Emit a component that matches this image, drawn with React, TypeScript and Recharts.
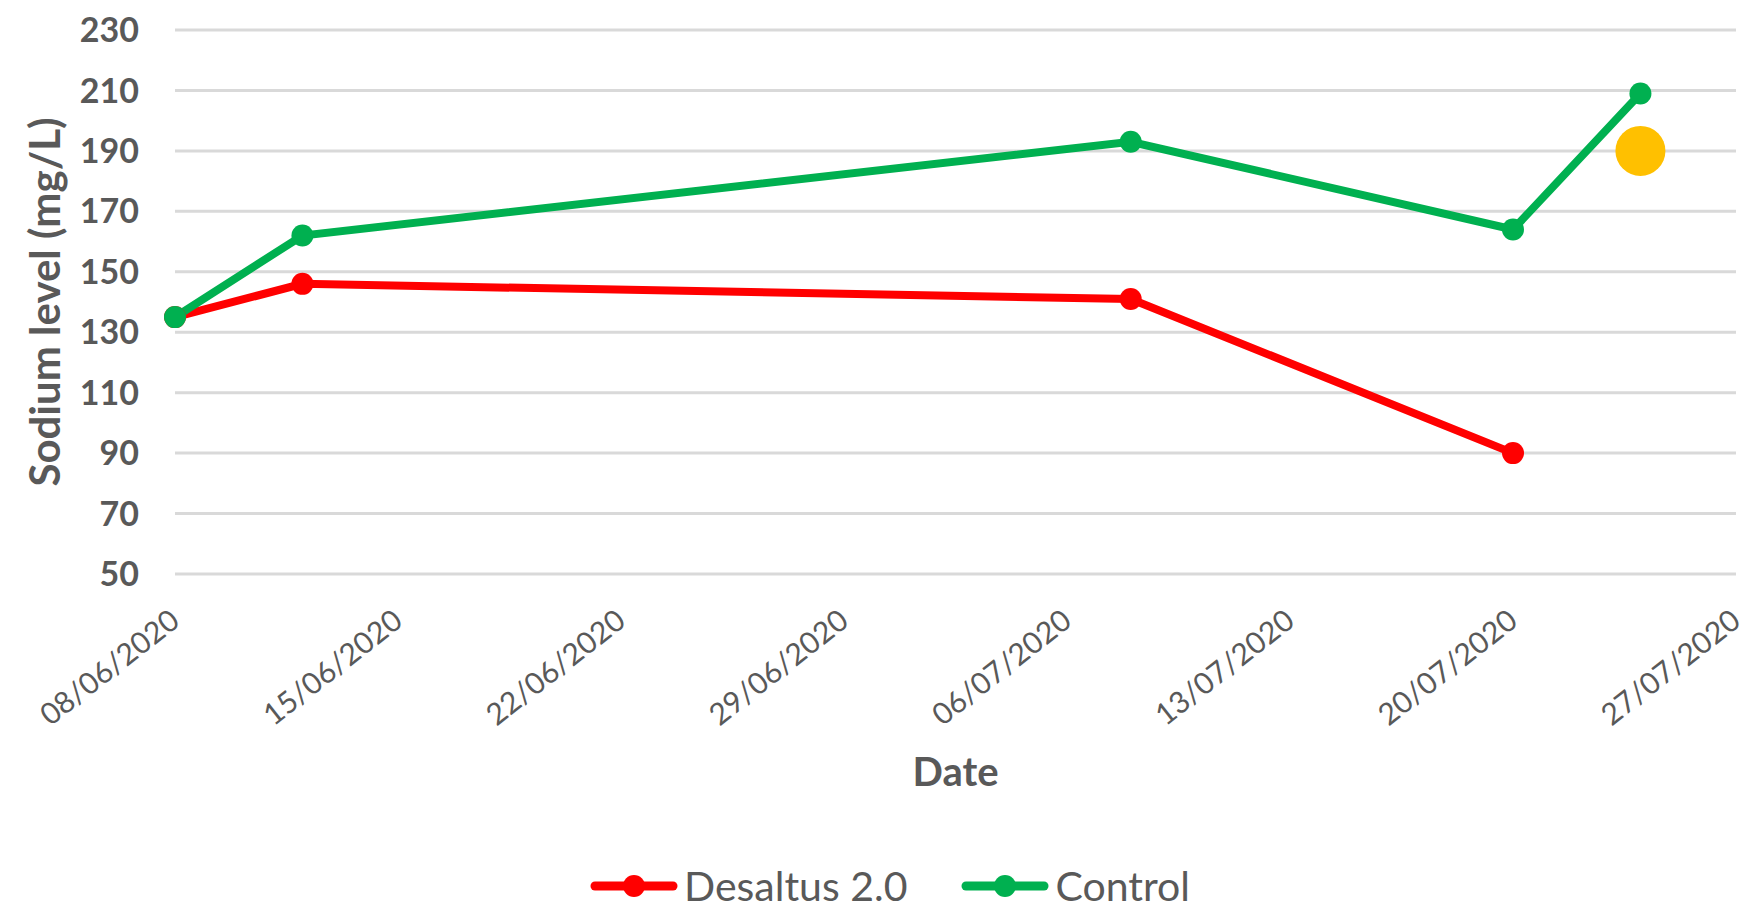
import {
  LineChart,
  Line,
  XAxis,
  YAxis,
  CartesianGrid,
  Legend,
} from "recharts";

// measurement dates and values
const dates = ["08/06/2020", "12/06/2020", "08/07/2020", "20/07/2020", "24/07/2020"];
const desaltus = [135, 146, 141, 90, null];
const control = [135, 162, 193, 164, 209];
const highlight = [null, null, null, null, 190];

const xTickLabels = [
  "08/06/2020",
  "15/06/2020",
  "22/06/2020",
  "29/06/2020",
  "06/07/2020",
  "13/07/2020",
  "20/07/2020",
  "27/07/2020",
];
const yTicks = [50, 70, 90, 110, 130, 150, 170, 190, 210, 230];

const series = [
  { key: "desaltus", name: "Desaltus 2.0", color: "#FF0000" },
  { key: "control", name: "Control", color: "#00B050" },
];

const FONT = "Lato, 'Open Sans', sans-serif";
const TEXT = "#595959";

const toUtc = (s: string) => {
  const [d, m, y] = s.split("/").map(Number);
  return Date.UTC(y, m - 1, d);
};
const start = toUtc(xTickLabels[0]);
const dayOf = (s: string) => Math.round((toUtc(s) - start) / 86400000);

const xTicks = xTickLabels.map(dayOf);
const labelByDay: Record<number, string> = {};
xTickLabels.forEach((l) => (labelByDay[dayOf(l)] = l));

const data = dates.map((d, i) => ({
  day: dayOf(d),
  desaltus: desaltus[i],
  control: control[i],
  highlight: highlight[i],
}));

const DateTick = ({ x, y, payload }: any) => (
  <g transform={`translate(${x},${y + 40})`}>
    <text
      transform="rotate(-38)"
      textAnchor="end"
      dy="0.35em"
      fill={TEXT}
      fontSize={30}
      fontFamily={FONT}
    >
      {labelByDay[payload.value]}
    </text>
  </g>
);

const YTitle = ({ viewBox }: any) => {
  const cx = 44;
  const cy = viewBox.y + viewBox.height / 2;
  return (
    <text
      x={cx}
      y={cy}
      transform={`rotate(-90, ${cx}, ${cy})`}
      textAnchor="middle"
      dominantBaseline="central"
      fill={TEXT}
      fontSize={42}
      fontWeight="bold"
      fontFamily={FONT}
    >
      Sodium level (mg/L)
    </text>
  );
};

const XTitle = ({ viewBox }: any) => (
  <text
    x={viewBox.x + viewBox.width / 2}
    y={viewBox.y + 197}
    textAnchor="middle"
    dominantBaseline="central"
    fill={TEXT}
    fontSize={40}
    fontWeight="bold"
    fontFamily={FONT}
  >
    Date
  </text>
);

const renderLegend = () => (
  <div
    style={{
      display: "flex",
      justifyContent: "center",
      alignItems: "center",
      gap: 54,
      paddingLeft: 44,
      paddingTop: 20,
      height: 70,
      boxSizing: "border-box",
      fontFamily: FONT,
      fontSize: 41,
      lineHeight: "44px",
      color: TEXT,
    }}
  >
    {series.map((s) => (
      <div key={s.key} style={{ display: "flex", alignItems: "center" }}>
        <svg width={88} height={26}>
          <line
            x1={5}
            x2={83}
            y1={13}
            y2={13}
            stroke={s.color}
            strokeWidth={9}
            strokeLinecap="round"
          />
          <circle cx={44} cy={13} r={11} fill={s.color} />
        </svg>
        <span style={{ marginLeft: 6, whiteSpace: "nowrap" }}>{s.name}</span>
      </div>
    ))}
  </div>
);

export default function App() {
  return (
    <div style={{ position: "absolute", left: 0, top: 0, background: "#fff" }}>
      <LineChart
        width={1745}
        height={911}
        data={data}
        margin={{ top: 30, right: 9, bottom: 0, left: 0 }}
      >
        <CartesianGrid
          vertical={false}
          stroke="#D9D9D9"
          strokeWidth={3}
        />
        <XAxis
          dataKey="day"
          type="number"
          domain={[xTicks[0], xTicks[xTicks.length - 1]]}
          ticks={xTicks}
          interval={0}
          height={267}
          axisLine={false}
          tickLine={false}
          tickSize={0}
          tick={<DateTick />}
          label={<XTitle />}
        />
        <YAxis
          type="number"
          domain={[50, 230]}
          ticks={yTicks}
          interval={0}
          width={175}
          axisLine={false}
          tickLine={false}
          tickSize={0}
          tickMargin={36}
          tick={{ fill: TEXT, fontSize: 34, fontWeight: "bold", fontFamily: FONT }}
          label={<YTitle />}
        />
        <Legend verticalAlign="bottom" height={70} content={renderLegend} />
        <Line
          dataKey="desaltus"
          name="Desaltus 2.0"
          stroke="#FF0000"
          strokeWidth={8}
          dot={{ r: 11, fill: "#FF0000", stroke: "none" }}
          activeDot={false}
          isAnimationActive={false}
        />
        <Line
          dataKey="highlight"
          name="highlight"
          stroke="none"
          legendType="none"
          dot={{ r: 25, fill: "#FFC000", stroke: "none" }}
          activeDot={false}
          isAnimationActive={false}
        />
        <Line
          dataKey="control"
          name="Control"
          stroke="#00B050"
          strokeWidth={8}
          dot={{ r: 11, fill: "#00B050", stroke: "none" }}
          activeDot={false}
          isAnimationActive={false}
        />
      </LineChart>
    </div>
  );
}
